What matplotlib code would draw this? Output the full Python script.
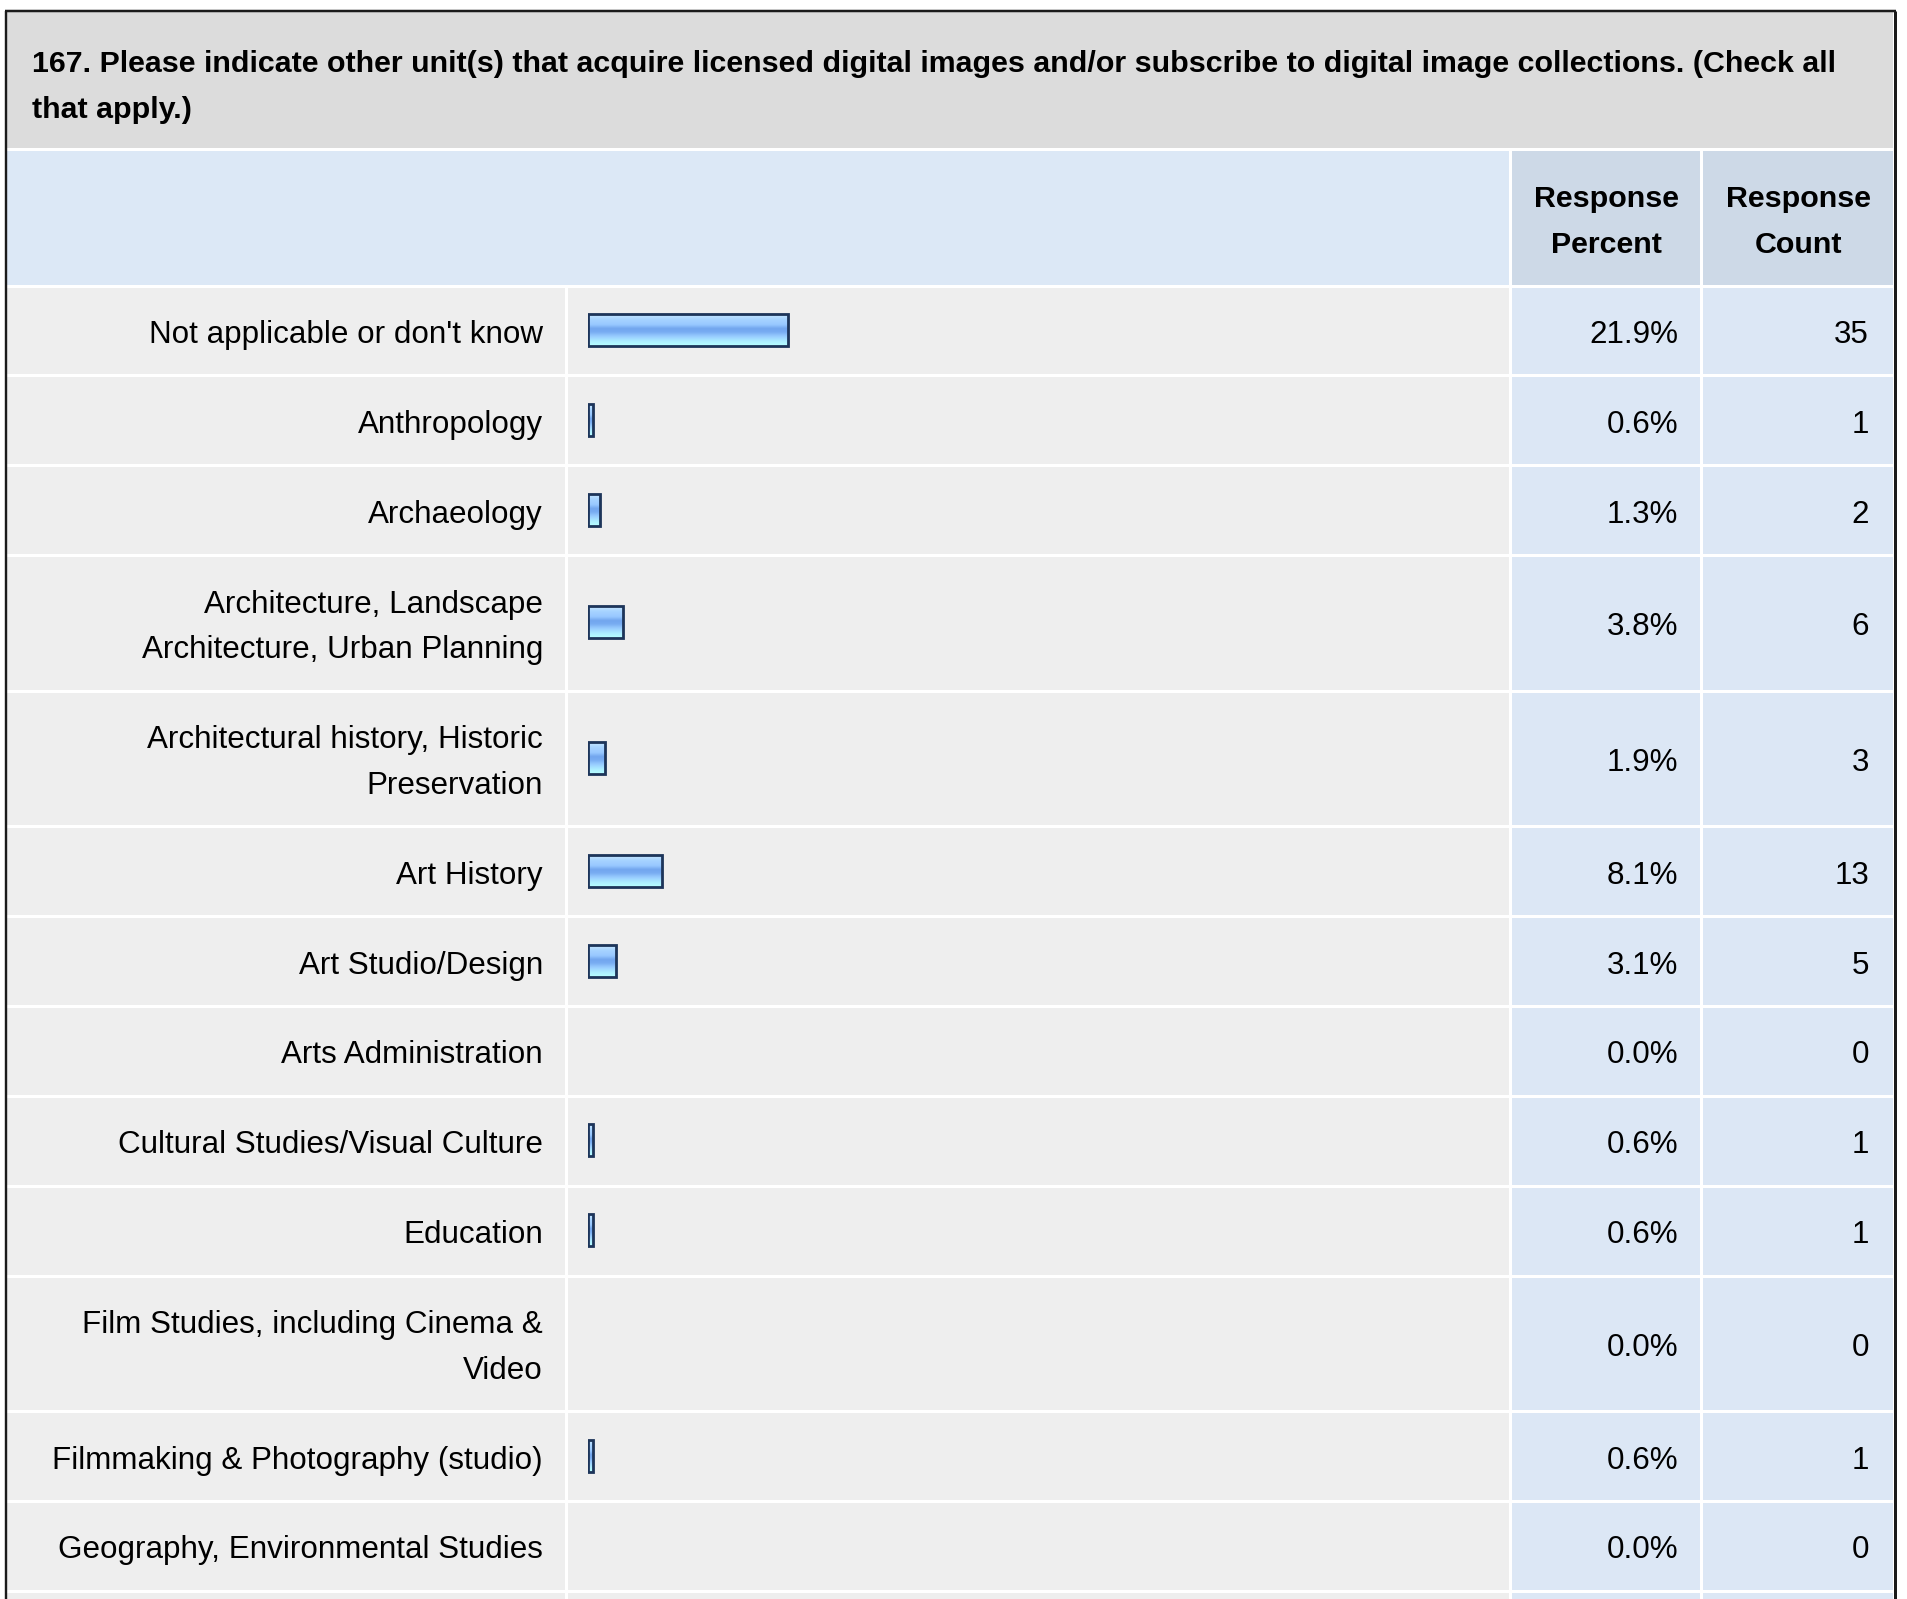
import matplotlib
matplotlib.use("Agg")
import matplotlib.pyplot as plt
from matplotlib.patches import Rectangle
from matplotlib.colors import LinearSegmentedColormap
import numpy as np

plt.rcParams['font.family'] = ['Liberation Sans', 'DejaVu Sans']

# ---------------- data ----------------
title = ("167. Please indicate other unit(s) that acquire licensed digital images and/or subscribe to digital image collections. (Check all\n"
         "that apply.)")
header_percent = "Response\nPercent"
header_count = "Response\nCount"
categories = [
    "Not applicable or don't know",
    "Anthropology",
    "Archaeology",
    "Architecture, Landscape\nArchitecture, Urban Planning",
    "Architectural history, Historic\nPreservation",
    "Art History",
    "Art Studio/Design",
    "Arts Administration",
    "Cultural Studies/Visual Culture",
    "Education",
    "Film Studies, including Cinema &\nVideo",
    "Filmmaking & Photography (studio)",
    "Geography, Environmental Studies",
]
percents = [21.9, 0.6, 1.3, 3.8, 1.9, 8.1, 3.1, 0.0, 0.6, 0.6, 0.0, 0.6, 0.0]
counts = [35, 1, 2, 6, 3, 13, 5, 0, 1, 1, 0, 1, 0]

# ---------------- layout ----------------
W, H = 1907, 1599
PX = 0.72  # points per pixel at dpi 100
fig = plt.figure(figsize=(W / 100, H / 100), dpi=100)
fig.patch.set_facecolor('white')
ax = fig.add_axes([0, 0, 1, 1])
ax.set_xlim(0, W)
ax.set_ylim(H, 0)
ax.axis('off')

GAP = 3
c_gray_title = '#dcdcdc'
c_head_left = '#dce8f6'
c_head_val = '#cdd9e7'
c_row = '#eeeeee'
c_val = '#dce7f5'

xL, xLab, xBar, xPct, xR = 7, 566.5, 1510.5, 1701.5, 1893
y_top, y_title_end, y_head_end = 12, 149.5, 286
LINE = 45.5
FS = 22.6
FS_B = 21.9


def cell(x0, x1, y0, y1, color):
    ax.add_patch(Rectangle((x0 + GAP / 2, y0 + GAP / 2), x1 - x0 - GAP, y1 - y0 - GAP,
                           facecolor=color, edgecolor='none', zorder=1))


def block(x, cy, s, ha, size, weight='normal', line=LINE):
    lines = s.split('\n')
    n = len(lines)
    for i, ln in enumerate(lines):
        ax.text(x, cy + 12 + (i - (n - 1) / 2) * line, ln, fontsize=size, fontweight=weight,
                ha=ha, va='baseline', zorder=3)


# title band
ax.add_patch(Rectangle((xL, y_top), xR - xL, y_title_end - y_top - GAP / 2,
                       facecolor=c_gray_title, edgecolor='none', zorder=1))
for i, ln in enumerate(title.split('\n')):
    ax.text(32, 72 + i * 46, ln, fontsize=FS_B, fontweight='bold', ha='left', va='baseline', zorder=3)

# header band
cell(xL - GAP / 2, xBar, y_title_end, y_head_end, c_head_left)
cell(xBar, xPct, y_title_end, y_head_end, c_head_val)
cell(xPct, xR + GAP / 2, y_title_end, y_head_end, c_head_val)
hcy = (y_title_end + y_head_end) / 2
block((xBar + xPct) / 2, hcy, header_percent, 'center', FS_B, 'bold', 46)
block((xPct + xR) / 2 + 1, hcy, header_count, 'center', FS_B, 'bold', 46)

# rows
centers = []
y = y_head_end
for lab in categories:
    n = lab.count('\n') + 1
    h = 44.1 + 45.75 * n
    centers.append(y + h / 2)
    cell(xL - GAP / 2, xLab, y, y + h, c_row)
    cell(xLab, xBar, y, y + h, c_row)
    cell(xBar, xPct, y, y + h, c_val)
    cell(xPct, xR + GAP / 2, y, y + h, c_val)
    y += h
# partially visible next row
cell(xL - GAP / 2, xLab, y, y + 90, c_row)
cell(xLab, xBar, y, y + 90, c_row)
cell(xBar, xPct, y, y + 90, c_val)
cell(xPct, xR + GAP / 2, y, y + 90, c_val)

for lab, cy, p, c in zip(categories, centers, percents, counts):
    block(543, cy, lab, 'right', FS)
    block(1678, cy, f"{p:.1f}%", 'right', FS)
    block(1869, cy, f"{c}", 'right', FS)

# outer border
ax.plot([xL - 1, xL - 1], [y_top - 1, H + 5], color='#1a1a1a', lw=2.4 * PX, zorder=5, solid_capstyle='butt')
ax.plot([xR + 1.5, xR + 1.5], [y_top - 1, H + 5], color='#1a1a1a', lw=3 * PX, zorder=5, solid_capstyle='butt')
ax.plot([xL - 2, xR + 3], [y_top - 1, y_top - 1], color='#1a1a1a', lw=2.5 * PX, zorder=5, solid_capstyle='butt')

# ---------------- bars ----------------
PX_PER_PCT = 9.15
bar_left = 588.0
bax = fig.add_axes([bar_left / W, 0, 100 * PX_PER_PCT / W, 1])
bax.patch.set_alpha(0)
bax.axis('off')
cmap = LinearSegmentedColormap.from_list('barfill', [
    (0.0, '#c8e8ff'), (0.15, '#a8d4ff'), (0.33, '#98c8ff'), (0.45, '#72a6ee'),
    (0.56, '#78acf2'), (0.7, '#98ccff'), (0.85, '#acecff'), (1.0, '#b6ffff')])
grad = np.linspace(0, 1, 64).reshape(-1, 1)
pct_arr = np.array(percents)
cen_arr = np.array(centers)
mask = pct_arr > 0
BAR_H = 32
bars = bax.barh(cen_arr[mask] - 1, pct_arr[mask], height=BAR_H, left=0, color='none',
                edgecolor='#1d355a', linewidth=2.8 * PX, zorder=3)
for b in bars:
    x0, yb = b.get_x(), b.get_y()
    im = bax.imshow(grad, extent=(x0, x0 + b.get_width(), yb + b.get_height(), yb),
                    aspect='auto', cmap=cmap, interpolation='bilinear', zorder=2, origin='upper')
    im.set_clip_path(b)
bax.set_xlim(0, 100)
bax.set_ylim(H, 0)

fig.savefig('out.png', dpi=100, facecolor='white')
